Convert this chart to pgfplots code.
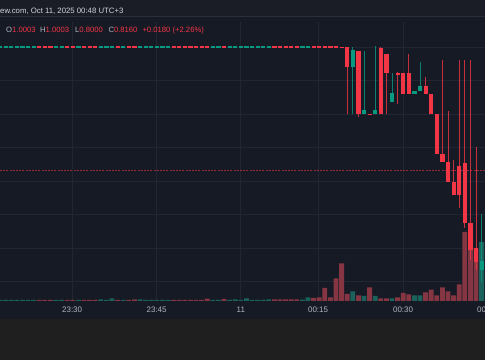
\documentclass[border=0pt]{standalone}
\usepackage{pgfplots}
\usepackage{pgfplotstable}
\pgfplotsset{compat=1.18}
\usepackage{fontspec}
\setmainfont{Liberation Sans}
\definecolor{bgc}{HTML}{161A25}
\definecolor{topc}{HTML}{1A1D26}
\definecolor{sepc}{HTML}{2A2E39}
\definecolor{outc}{HTML}{1F1F1F}
\definecolor{gridc}{HTML}{222633}
\definecolor{upc}{HTML}{089981}
\definecolor{dnc}{HTML}{F23645}
\definecolor{upv}{HTML}{1C625C}
\definecolor{dnv}{HTML}{863642}
\definecolor{txtc}{HTML}{B2B5BE}
\definecolor{hdrc}{HTML}{D1D4DC}

% up candles: j open high low close
\pgfplotstableread{
j o h l c
-43 0.9990 1.0010 0.9990 1.0010
-42 0.9990 1.0010 0.9990 1.0010
-41 0.9990 1.0010 0.9990 1.0010
-40 0.9990 1.0010 0.9990 1.0010
-39 0.9990 1.0010 0.9990 1.0010
-38 0.9990 1.0010 0.9990 1.0010
-37 0.9990 1.0010 0.9990 1.0010
-33 0.9990 1.0010 0.9990 1.0010
-32 0.9990 1.0010 0.9990 1.0010
-29 0.9990 1.0010 0.9990 1.0010
-25 0.9990 1.0010 0.9990 1.0010
-24 0.9990 1.0010 0.9990 1.0010
-23 0.9990 1.0010 0.9990 1.0010
-21 0.9990 1.0010 0.9990 1.0010
-18 0.9990 1.0010 0.9990 1.0010
-17 0.9990 1.0010 0.9990 1.0010
-16 0.9990 1.0010 0.9990 1.0010
-15 0.9990 1.0010 0.9990 1.0010
-14 0.9990 1.0010 0.9990 1.0010
-13 0.9990 1.0010 0.9990 1.0010
-5 0.9990 1.0010 0.9990 1.0010
-4 0.9990 1.0010 0.9990 1.0010
-2 0.9990 1.0010 0.9990 1.0010
-1 0.9990 1.0010 0.9990 1.0010
0 0.9990 1.0010 0.9990 1.0010
1 0.9990 1.0010 0.9990 1.0010
2 0.9990 1.0010 0.9990 1.0010
3 0.9990 1.0010 0.9990 1.0010
4 0.9990 1.0010 0.9990 1.0010
5 0.9990 1.0010 0.9990 1.0010
11 0.9990 1.0010 0.9990 1.0010
12 0.9990 1.0010 0.9990 1.0010
20 0.970 1.000 0.900 0.9955
22 0.900 0.994 0.900 0.906
24 0.900 1.0015 0.900 0.906
27 0.918 0.961 0.918 0.931
31 0.930 0.934 0.930 0.934
32 0.934 0.978 0.934 0.942
43 0.667 0.751 0.650 0.680
}\upC

% down candles
\pgfplotstableread{
j o h l c
-36 1.0010 1.0010 0.9990 0.9990
-35 1.0010 1.0010 0.9990 0.9990
-34 1.0010 1.0010 0.9990 0.9990
-31 1.0010 1.0010 0.9990 0.9990
-30 1.0010 1.0010 0.9990 0.9990
-28 1.0010 1.0010 0.9990 0.9990
-27 1.0010 1.0010 0.9990 0.9990
-26 1.0010 1.0010 0.9990 0.9990
-22 1.0010 1.0010 0.9990 0.9990
-20 1.0010 1.0010 0.9990 0.9990
-19 1.0010 1.0010 0.9990 0.9990
-12 1.0010 1.0010 0.9990 0.9990
-11 1.0010 1.0010 0.9990 0.9990
-10 1.0010 1.0010 0.9990 0.9990
-9 1.0010 1.0010 0.9990 0.9990
-8 1.0010 1.0010 0.9990 0.9990
-7 1.0010 1.0010 0.9990 0.9990
-6 1.0010 1.0010 0.9990 0.9990
-3 1.0010 1.0010 0.9990 0.9990
6 1.0010 1.0010 0.9990 0.9990
7 1.0010 1.0010 0.9990 0.9990
8 1.0010 1.0010 0.9990 0.9990
9 1.0010 1.0010 0.9990 0.9990
10 1.0010 1.0010 0.9990 0.9990
13 1.0010 1.0010 0.9990 0.9990
14 1.0010 1.0010 0.9990 0.9990
15 1.0010 1.0010 0.9990 0.9990
16 1.0010 1.0010 0.9990 0.9990
17 1.0008 1.0008 0.9988 0.9988
18 1.0006 1.0006 0.9986 0.9986
19 1.000 1.000 0.900 0.970
21 0.994 0.994 0.8955 0.900
23 0.9003 0.9003 0.8993 0.8993
25 0.9985 1.000 0.900 0.900
26 0.990 0.990 0.900 0.961
28 0.961 0.962 0.915 0.9595
29 0.961 0.961 0.930 0.930
30 0.961 0.990 0.930 0.930
33 0.942 0.955 0.930 0.930
34 0.930 0.930 0.900 0.900
35 0.900 0.900 0.840 0.840
36 0.840 0.9806 0.828 0.828
37 0.829 0.904 0.798 0.798
38 0.799 0.832 0.779 0.779
39 0.822 0.9806 0.759 0.779
40 0.827 0.9806 0.730 0.737
41 0.737 0.9806 0.682 0.697
42 0.700 0.851 0.667 0.679
}\dnC

% volumes (up)
\pgfplotstableread{
j v
-43 1.2
-42 1.2
-41 1.2
-40 1.2
-39 1.2
-38 1.2
-37 1.2
-33 1.2
-32 1.2
-29 1.2
-25 1.7
-24 1.2
-23 2.5
-21 1.2
-18 1.5
-17 1.2
-16 1.2
-15 1.2
-14 1.2
-13 1.2
-5 1.2
-4 1.2
-2 1.2
-1 1.5
0 1.2
1 2.7
2 1.2
3 1.2
4 1.2
5 1.5
11 1.3
12 3.7
20 9.7
22 5
24 5
27 2.7
31 5.7
32 5.7
43 59
}\upV

% volumes (down)
\pgfplotstableread{
j v
-36 1.2
-35 1.2
-34 1.2
-31 1.2
-30 1.2
-28 1.2
-27 1.2
-26 1.2
-22 1.2
-20 1.2
-19 1.7
-12 1.2
-11 1.2
-10 1.2
-9 1.2
-8 1.2
-7 1.2
-6 2.3
-3 2
6 1.5
7 1.5
8 1.5
9 1.5
10 1.5
13 3
14 3.7
15 13
16 3.7
17 22.7
18 37.7
19 7
21 5.7
23 13.7
25 2.7
26 2.7
28 3.7
29 8
30 6.7
33 8.7
34 11.3
35 5.7
36 13.7
37 9.7
38 5.7
39 16.7
40 69
41 70
42 52
}\dnV

\pgfplotsset{
  tvbase/.style={
    at={(0bp,59bp)}, anchor=south west,
    scale only axis, width=490.56bp, height=279bp,
    xmin=-43, xmax=44.6,
  },
  wick/.style={only marks, mark=*, mark size=0.1pt,
    mark options={draw opacity=0, fill opacity=0},
    color=#1, forget plot,
    error bars/.cd, y dir=both, y explicit, error mark=none,
    error bar style={line width=0.85bp, draw=#1, opacity=0.8}},
  body/.style={only marks, mark=*, mark size=0.1pt,
    mark options={draw opacity=0, fill opacity=0},
    color=#1, forget plot,
    error bars/.cd, y dir=both, y explicit, error mark=none,
    error bar style={line width=4.2bp, draw=#1}},
}

\begin{document}
\begin{tikzpicture}
\clip (0,0) rectangle (485bp,360bp);
\fill[outc] (0,0) rectangle (485bp,360bp);
\fill[bgc] (0,41bp) rectangle (485bp,344bp);
\fill[topc] (0,344bp) rectangle (485bp,360bp);
\draw[sepc, line width=0.8bp] (0,344bp) -- (485bp,344bp);

% grid, time labels, last-price line
\begin{axis}[tvbase,
  ymin=0.6209, ymax=1.0373,
  axis line style={draw=none}, tick style={draw=none},
  major tick length=0pt,
  xtick={-30.12,-15.04,0,13.8,28.98,43.98},
  xticklabels={23:30,23:45,11,00:15,00:30,00:45},
  ytick={0.65,0.70,0.75,0.80,0.85,0.90,0.95,1.00},
  yticklabels={},
  xmajorgrids, ymajorgrids,
  grid style={draw=gridc, line width=0.8bp},
  xticklabel style={anchor=center, yshift=-9bp, text=txtc, font=\fontsize{8}{9}\selectfont},
  /pgf/number format/assume math mode=true,
]
\addplot[dnc, opacity=0.6, line width=0.8bp, dash pattern=on 2bp off 1.2bp] coordinates {(-43,0.816) (44.6,0.816)};
\end{axis}

% volume
\begin{axis}[tvbase, ymin=0, ymax=279, hide axis]
\addplot[ybar, bar width=4.8bp, bar shift=0pt, draw=none, fill=upv] table[x=j, y=v] \upV;
\addplot[ybar, bar width=4.8bp, bar shift=0pt, draw=none, fill=dnv] table[x=j, y=v] \dnV;
\end{axis}

% candles
\begin{axis}[tvbase, ymin=0.6209, ymax=1.0373, hide axis]
\addplot[wick=upc] table[x=j, y expr={(\thisrow{h}+\thisrow{l})/2}, y error expr={(\thisrow{h}-\thisrow{l})/2}] \upC;
\addplot[wick=dnc] table[x=j, y expr={(\thisrow{h}+\thisrow{l})/2}, y error expr={(\thisrow{h}-\thisrow{l})/2}] \dnC;
\addplot[body=upc] table[x=j, y expr={(\thisrow{o}+\thisrow{c})/2}, y error expr={abs(\thisrow{o}-\thisrow{c})/2}] \upC;
\addplot[body=dnc] table[x=j, y expr={(\thisrow{o}+\thisrow{c})/2}, y error expr={abs(\thisrow{o}-\thisrow{c})/2}] \dnC;
\end{axis}

% header texts
\node[anchor=base west, inner sep=0pt, text=hdrc, font=\fontsize{7.8}{9}\selectfont] at (0bp,346.7bp) {ew.com, Oct 11, 2025 00:48 UTC+3};
\begin{scope}[every node/.style={anchor=base west, inner sep=0pt, font=\fontsize{7.7}{9}\selectfont}]
\node at (6bp,327.7bp) {\textcolor{txtc}{O}\textcolor{dnc}{1.0003}};
\node at (40bp,327.7bp) {\textcolor{txtc}{H}\textcolor{dnc}{1.0003}};
\node at (75bp,327.7bp) {\textcolor{txtc}{L}\textcolor{dnc}{0.8000}};
\node at (108.3bp,327.7bp) {\textcolor{txtc}{C}\textcolor{dnc}{0.8160}};
\node at (142.3bp,327.7bp) {\textcolor{dnc}{+0.0180 (+2.26\%)}};
\end{scope}
\end{tikzpicture}
\end{document}
